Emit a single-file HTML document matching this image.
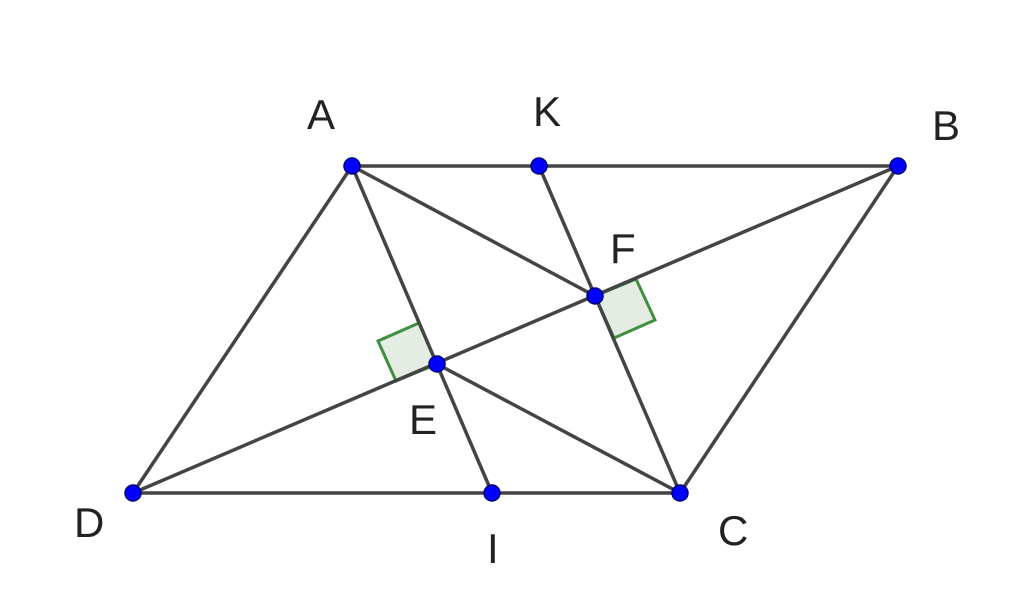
<!DOCTYPE html>
<html><head><meta charset="utf-8"><style>
html,body{margin:0;padding:0;background:#fff;}
svg{display:block;}
text{font-family:"Liberation Sans",sans-serif;font-size:42px;fill:#222;}
</style></head><body>
<svg width="1024" height="593" viewBox="0 0 1024 593" xmlns="http://www.w3.org/2000/svg">
<rect width="1024" height="593" fill="#fff"/>
<g fill="#e4ece4" stroke="#3f8f3f" stroke-width="3">
<polygon points="437,364 396,381 378,341 419,323"/>
<polygon points="595,296 636,279 655,320 614,338"/>
</g>
<g stroke="#444" stroke-width="3.5" fill="none" stroke-linecap="round">
<line x1="352" y1="166" x2="898" y2="166"/>
<line x1="133" y1="493" x2="680" y2="493"/>
<line x1="352" y1="166" x2="133" y2="493"/>
<line x1="898" y1="166" x2="680" y2="493"/>
<line x1="133" y1="493" x2="898" y2="166"/>
<line x1="352" y1="166" x2="492" y2="493"/>
<line x1="539" y1="166" x2="680" y2="493"/>
<line x1="352" y1="166" x2="595" y2="296"/>
<line x1="437" y1="364" x2="680" y2="493"/>
</g>
<g fill="#0000ff" stroke="#00007a" stroke-width="1.5">
<circle cx="352" cy="166" r="8"/><circle cx="539" cy="166" r="8"/>
<circle cx="898" cy="166" r="8"/><circle cx="133" cy="493" r="8"/>
<circle cx="492" cy="493" r="8"/><circle cx="680" cy="493" r="8"/>
<circle cx="437" cy="364" r="8"/><circle cx="595" cy="296" r="8"/>
</g>
<text x="307" y="129">A</text>
<text x="533" y="126">K</text>
<text x="932" y="140">B</text>
<text x="610" y="263">F</text>
<text x="409" y="434">E</text>
<text x="74" y="537">D</text>
<text x="487" y="563">I</text>
<text x="718" y="545">C</text>
</svg>
</body></html>
